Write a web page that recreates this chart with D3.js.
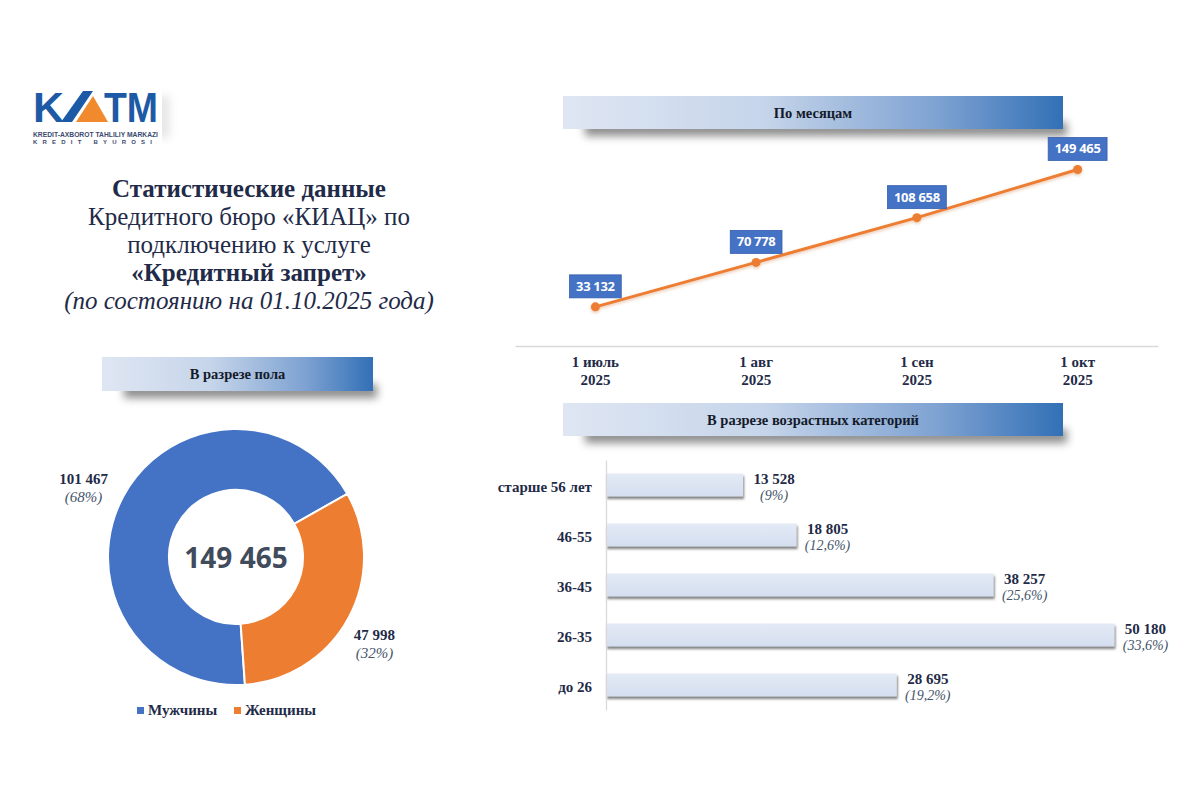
<!DOCTYPE html>
<html><head><meta charset="utf-8">
<script src="https://cdn.jsdelivr.net/npm/d3@7"></script>
<style>body{margin:0;background:#fff} svg{display:block}</style>
</head><body>
<svg id="c" width="1200" height="800"></svg>
<script>
// ---------- DATA ----------
const titleLines = ["Статистические данные", "Кредитного бюро «КИАЦ» по", "подключению к услуге", "«Кредитный запрет»", "(по состоянию на 01.10.2025 года)"];
const monthLabels = ["1 июль", "1 авг", "1 сен", "1 окт"];
const monthYears = ["2025", "2025", "2025", "2025"];
const monthValues = [33132, 70778, 108658, 149465];
const genderLabels = ["Мужчины", "Женщины"];
const genderValues = [101467, 47998];
const genderPct = ["68%", "32%"];
const ageLabels = ["старше 56 лет", "46-55", "36-45", "26-35", "до 26"];
const ageValues = [13528, 18805, 38257, 50180, 28695];
const agePct = ["9%", "12,6%", "25,6%", "33,6%", "19,2%"];
const bannerTitles = ["В разрезе пола", "По месяцам", "В разрезе возрастных категорий"];

// ---------- SETUP ----------
const serif = "'Liberation Serif','Times New Roman',serif";
const sans = "'Open Sans','Liberation Sans',sans-serif";
const navy = "#1f2b48";
const blue = "#4472c4", orange = "#ed7d31";
const loc = d3.formatLocale({thousands: " ", grouping: [3], decimal: ",", currency: ["", ""]});
const fmt = loc.format(",");
const svg = d3.select("#c");
const defs = svg.append("defs");

const bg = defs.append("linearGradient").attr("id", "bannerGrad").attr("x1", "0").attr("x2", "1").attr("y1", "0").attr("y2", "0");
bg.append("stop").attr("offset", "0%").attr("stop-color", "#dfe6f3");
bg.append("stop").attr("offset", "40%").attr("stop-color", "#c6d5ea");
bg.append("stop").attr("offset", "75%").attr("stop-color", "#7ea2d2");
bg.append("stop").attr("offset", "100%").attr("stop-color", "#3270b6");

defs.append("filter").attr("id", "blur").attr("x", "-20%").attr("y", "-100%").attr("width", "140%").attr("height", "300%")
  .append("feGaussianBlur").attr("stdDeviation", 4);

const bs = defs.append("filter").attr("id", "barShadow").attr("x", "-5%").attr("y", "-30%").attr("width", "115%").attr("height", "180%");
bs.append("feDropShadow").attr("dx", 1).attr("dy", 2.5).attr("stdDeviation", 0.8).attr("flood-color", "#6a6a6a").attr("flood-opacity", 0.85);

const ls = defs.append("filter").attr("id", "lineShadow").attr("x", "-10%").attr("y", "-30%").attr("width", "120%").attr("height", "160%");
ls.append("feDropShadow").attr("dx", 0).attr("dy", 1.5).attr("stdDeviation", 1.5).attr("flood-color", "#c05a1a").attr("flood-opacity", 0.35);

const barGrad = defs.append("linearGradient").attr("id", "barGrad").attr("x1", "0").attr("x2", "0").attr("y1", "0").attr("y2", "1");
barGrad.append("stop").attr("offset", "0%").attr("stop-color", "#e4eaf6");
barGrad.append("stop").attr("offset", "100%").attr("stop-color", "#d4deef");

// ---------- LOGO ----------
const logo = svg.append("g");
logo.append("rect").attr("x", 40).attr("y", 96).attr("width", 130).attr("height", 42).attr("fill", "#bbb").attr("opacity", 0.35).attr("filter", "url(#blur)");
logo.append("rect").attr("x", 30).attr("y", 88).attr("width", 132).attr("height", 58).attr("fill", "#fff");
logo.append("text").attr("x", 33).attr("y", 122).attr("textLength", 31).attr("lengthAdjust", "spacingAndGlyphs")
  .attr("font-family", "'Liberation Sans',Arial,sans-serif").attr("font-weight", "bold").attr("font-size", 43).attr("fill", "#1d5aa6").text("K");
logo.append("polygon").attr("points", "61,122 72,122 93,91 83,91").attr("fill", "#1d5aa6");
logo.append("polygon").attr("points", "76,122 93,96 108,122").attr("fill", "#f08a2c");
logo.append("text").attr("x", 104).attr("y", 122).attr("textLength", 54).attr("lengthAdjust", "spacingAndGlyphs")
  .attr("font-family", "'Liberation Sans',Arial,sans-serif").attr("font-weight", "bold").attr("font-size", 43).attr("fill", "#1d5aa6").text("TM");
logo.append("text").attr("x", 33).attr("y", 137).attr("textLength", 125).attr("lengthAdjust", "spacingAndGlyphs")
  .attr("font-family", "'Liberation Sans',Arial,sans-serif").attr("font-weight", "bold").attr("font-size", 6.5).attr("fill", "#3a4a6e").text("KREDIT-AXBOROT TAHLILIY MARKAZI");
logo.append("text").attr("x", 33).attr("y", 144).attr("textLength", 122).attr("lengthAdjust", "spacing")
  .attr("font-family", "'Liberation Sans',Arial,sans-serif").attr("font-weight", "bold").attr("font-size", 6).attr("letter-spacing", 3).attr("fill", "#3a4a6e").text("KREDIT BYUROSI");

// ---------- TITLE ----------
const titleY = [197, 225, 253, 281, 309];
svg.append("g").selectAll("text").data(titleLines).join("text")
  .attr("x", 249).attr("y", (d, i) => titleY[i]).attr("text-anchor", "middle")
  .attr("font-family", serif).attr("font-size", 25).attr("fill", navy)
  .attr("font-weight", (d, i) => (i === 0 || i === 3) ? "bold" : "normal")
  .attr("font-style", (d, i) => i === 4 ? "italic" : "normal")
  .text(d => d);

// ---------- BANNERS ----------
function banner(x, y, w, h, label) {
  const g = svg.append("g");
  g.append("rect").attr("x", x + 22).attr("y", y + h - 7).attr("width", w - 18).attr("height", 14)
    .attr("fill", "#666").attr("opacity", 0.75).attr("filter", "url(#blur)");
  g.append("rect").attr("x", x).attr("y", y).attr("width", w).attr("height", h).attr("fill", "url(#bannerGrad)");
  g.append("text").attr("x", x + w / 2).attr("y", y + h / 2 + 5).attr("text-anchor", "middle")
    .attr("font-family", serif).attr("font-weight", "bold").attr("font-size", 14.5).attr("fill", "#141a2a").text(label);
}
banner(102, 357, 271, 34, bannerTitles[0]);
banner(563, 96, 500, 33, bannerTitles[1]);
banner(563, 403, 500, 33, bannerTitles[2]);

// ---------- DONUT ----------
const cx = 236, cy = 557, rOut = 128, rIn = 67;
const start = 176 * Math.PI / 180;
const pie = d3.pie().sort(null).startAngle(start).endAngle(start + 2 * Math.PI);
const arcs = pie(genderValues);
const arc = d3.arc().innerRadius(rIn).outerRadius(rOut);
const labelArc = d3.arc().innerRadius(165).outerRadius(165);
const dg = svg.append("g").attr("transform", `translate(${cx},${cy})`);
dg.selectAll("path").data(arcs).join("path").attr("d", arc)
  .attr("fill", (d, i) => [blue, orange][i]).attr("stroke", "#fff").attr("stroke-width", 2);
dg.append("text").attr("x", 0).attr("y", 11).attr("text-anchor", "middle")
  .attr("font-family", sans).attr("font-weight", "bold").attr("font-size", 28).attr("fill", "#404b5c")
  .text(fmt(d3.sum(genderValues)));
arcs.forEach((a, i) => {
  const [lx, ly] = labelArc.centroid(a);
  dg.append("text").attr("x", lx - 7).attr("y", ly + 5).attr("text-anchor", "middle")
    .attr("font-family", serif).attr("font-weight", "bold").attr("font-size", 15).attr("fill", navy).text(fmt(genderValues[i]));
  dg.append("text").attr("x", lx - 7).attr("y", ly + 23).attr("text-anchor", "middle")
    .attr("font-family", serif).attr("font-style", "italic").attr("font-size", 15).attr("fill", "#44546a").text(`(${genderPct[i]})`);
});
// legend
const legX = [137, 234];
genderLabels.forEach((l, i) => {
  svg.append("rect").attr("x", legX[i]).attr("y", 707).attr("width", 7).attr("height", 7).attr("fill", [blue, orange][i]);
  svg.append("text").attr("x", legX[i] + 11).attr("y", 715).attr("font-family", serif).attr("font-weight", "bold")
    .attr("font-size", 15).attr("fill", navy).text(l);
});

// ---------- LINE CHART ----------
const x = d3.scaleBand().domain(monthLabels).range([515, 1158]);
const xc = d => x(d) + x.bandwidth() / 2;
const y = d3.scaleLinear().domain([0, 160000]).range([346, 157]);
const ax = svg.append("g").attr("transform", `translate(0,${y(0)})`)
  .call(d3.axisBottom(x).tickSize(0).tickSizeOuter(0));
ax.select(".domain").attr("stroke", "#d9d9d9").attr("stroke-width", 1.3);
ax.selectAll(".tick text").each(function (d, i) {
  const t = d3.select(this).text(null).attr("y", 0).attr("dy", null)
    .attr("font-family", serif).attr("font-weight", "bold").attr("font-size", 15).attr("fill", navy);
  t.append("tspan").attr("x", 0).attr("y", 21).text(d);
  t.append("tspan").attr("x", 0).attr("y", 39).text(monthYears[i]);
});
const pts = monthLabels.map((m, i) => [xc(m), y(monthValues[i])]);
const lg = svg.append("g").attr("filter", "url(#lineShadow)");
lg.append("path").attr("d", d3.line()(pts)).attr("fill", "none").attr("stroke", orange).attr("stroke-width", 3).attr("stroke-linecap", "round");
lg.selectAll("circle").data(pts).join("circle").attr("cx", d => d[0]).attr("cy", d => d[1]).attr("r", 4.5).attr("fill", orange);
monthValues.forEach((v, i) => {
  const px = xc(monthLabels[i]), py = y(v);
  const g = svg.append("g");
  const r = g.append("rect");
  const t = g.append("text").attr("x", px).attr("y", py - 9 - 7).attr("text-anchor", "middle")
    .attr("font-family", sans).attr("font-weight", "bold").attr("font-size", 13).attr("letter-spacing", -0.3)
    .attr("fill", "#fff").text(fmt(v));
  const w = t.node().getComputedTextLength() + 13;
  r.attr("x", px - w / 2).attr("y", py - 9 - 23).attr("width", w).attr("height", 23)
    .attr("fill", blue).attr("stroke", "#3560ad").attr("stroke-width", 0.8);
});

// ---------- BAR CHART ----------
const xb = d3.scaleLinear().domain([0, 60000]).range([606, 1214]);
const yb = d3.scaleBand().domain(ageLabels).range([460, 710]).paddingInner(0.54).paddingOuter(0.27);
const bg2 = svg.append("g");
bg2.selectAll("rect").data(ageValues).join("rect")
  .attr("x", xb(0)).attr("y", (d, i) => yb(ageLabels[i])).attr("width", d => xb(d) - xb(0)).attr("height", yb.bandwidth())
  .attr("fill", "url(#barGrad)").attr("filter", "url(#barShadow)");
const ay = svg.append("g").attr("transform", `translate(${xb(0)},0)`).call(d3.axisLeft(yb).tickSize(0).tickSizeOuter(0).tickPadding(14));
ay.select(".domain").attr("stroke", "#d9d9d9").attr("stroke-width", 1.3);
ay.selectAll(".tick text").attr("font-family", serif).attr("font-weight", "bold").attr("font-size", 15).attr("fill", navy).attr("dy", "0.45em");
ageValues.forEach((v, i) => {
  const c = yb(ageLabels[i]) + yb.bandwidth() / 2;
  svg.append("text").attr("x", xb(v) + 31).attr("y", c - 1).attr("text-anchor", "middle")
    .attr("font-family", serif).attr("font-weight", "bold").attr("font-size", 15).attr("fill", navy).text(fmt(v));
  svg.append("text").attr("x", xb(v) + 31).attr("y", c + 15).attr("text-anchor", "middle")
    .attr("font-family", serif).attr("font-style", "italic").attr("font-size", 14).attr("fill", "#44546a").text(`(${agePct[i]})`);
});
</script>
</body></html>
